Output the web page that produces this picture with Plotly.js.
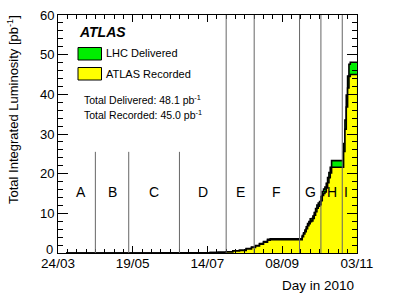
<!DOCTYPE html>
<html>
<head>
<meta charset="utf-8">
<script src="https://cdn.plot.ly/plotly-3.0.1.min.js"></script>
<style>html,body{margin:0;padding:0;background:#fff;}#chart{width:415px;height:298px;}</style>
</head>
<body>
<div id="chart"></div>
<script>
// ---- data ----
var dates = ['2010-03-30','2010-04-21','2010-05-17','2010-06-10','2010-06-25','2010-07-08','2010-07-16','2010-07-22','2010-07-28','2010-08-02','2010-08-07','2010-08-12','2010-08-16','2010-08-19','2010-08-22','2010-08-25','2010-08-28','2010-08-30','2010-09-22',
 '2010-09-23','2010-09-24','2010-09-25','2010-09-26','2010-09-27','2010-09-28','2010-09-29','2010-09-30',
 '2010-10-01','2010-10-02','2010-10-03','2010-10-04','2010-10-05','2010-10-06','2010-10-07','2010-10-08','2010-10-09','2010-10-10','2010-10-11','2010-10-12','2010-10-13','2010-10-14','2010-10-15',
 '2010-10-23','2010-10-24','2010-10-25','2010-10-26','2010-10-27','2010-10-28','2010-10-29','2010-11-03'];
var delivered = [0,0,0.01,0.02,0.05,0.08,0.12,0.18,0.3,0.55,0.7,1.1,1.5,1.9,2.4,2.9,3.45,3.6,3.6,
 4.4,5.1,5.8,6.6,7.4,7.9,8.6,8.7,
 9.3,10.2,11.2,12.1,12.6,13.0,14.2,15.5,16.1,16.6,17.6,19.0,20.3,21.6,23.3,
 23.3,27.6,33.5,39.8,44.6,47.6,48.1,48.1];
var recorded = [0,0,0.01,0.02,0.05,0.07,0.11,0.17,0.28,0.51,0.65,1.02,1.4,1.77,2.23,2.7,3.2,3.35,3.35,
 4.1,4.8,5.4,6.1,6.9,7.4,7.9,8.1,
 8.7,9.5,10.4,11.3,11.8,12.2,13.2,14.5,15.0,15.4,16.4,17.7,19.0,20.2,21.6,
 21.6,25.6,31.2,36.8,41.6,44.5,45.0,45.0];
var periodNames = ['A','B','C','D','E','F','G','H','I'];
var periodEdges = ['2010-03-30','2010-04-21','2010-05-16','2010-06-23','2010-07-28','2010-08-18','2010-09-21','2010-10-07','2010-10-23','2010-10-29'];
var shortLineTop = 25.5;   // height of the early period separators
var totalDelivered = '48.1';
var totalRecorded = '45.0';
var yTickVals = [0, 10, 20, 30, 40, 50, 60];
var yTickText = ['', '10', '20', '30', '40', '50', '60'];
var zeroLabel = '0';
var xTickStart = '2010-03-24';
var xEnd = '2010-11-03 01:00';

// ---- layout helpers (pixel geometry) ----
var L = 58, R = 357, T = 15, B = 253;
function px(x){ return (x - L) / (R - L); }
function py(y){ return (B - y) / (B - T); }
var FONT = 'Liberation Sans, Arial, Helvetica, sans-serif';
var DAY = 86400000;

var traces = [
  {x: dates, y: delivered, type: 'scatter', mode: 'lines', line: {shape: 'hv', color: '#000', width: 1.6},
   fill: 'tozeroy', fillcolor: '#00ee00', hoverinfo: 'skip', name: 'LHC Delivered'},
  {x: dates, y: recorded, type: 'scatter', mode: 'lines', line: {shape: 'hv', color: '#000', width: 1.6},
   fill: 'tozeroy', fillcolor: '#ffff00', hoverinfo: 'skip', name: 'ATLAS Recorded'}
];

var shapes = [];
var annotations = [];
function ms(d){ return new Date(d + 'T00:00:00Z').getTime(); }
for (var i = 1; i < periodEdges.length - 1; i++) {
  var full = i >= 4;
  shapes.push({type: 'line', xref: 'x', yref: full ? 'paper' : 'y', x0: periodEdges[i], x1: periodEdges[i],
    y0: 0, y1: full ? 1 : shortLineTop, line: {color: '#666', width: 1}, layer: 'above'});
}
for (var j = 0; j < periodNames.length; j++) {
  var mid = (ms(periodEdges[j]) + ms(periodEdges[j + 1])) / 2;
  annotations.push({xref: 'x', yref: 'y', x: mid, y: 15.5, text: periodNames[j], showarrow: false,
    font: {family: FONT, size: 14, color: '#000'}, xanchor: 'center', yanchor: 'middle'});
}
// legend boxes
shapes.push({type: 'rect', xref: 'paper', yref: 'paper', x0: px(78), x1: px(101.5), y0: py(60), y1: py(47.5),
  fillcolor: '#00ee00', line: {color: '#000', width: 1}, layer: 'above'});
shapes.push({type: 'rect', xref: 'paper', yref: 'paper', x0: px(78), x1: px(101.5), y0: py(80), y1: py(67.5),
  fillcolor: '#ffff00', line: {color: '#000', width: 1}, layer: 'above'});
annotations.push({xref: 'paper', yref: 'paper', x: px(77), y: py(32), text: '<b><i>ATLAS</i></b>', showarrow: false,
  xanchor: 'left', yanchor: 'middle', font: {family: FONT, size: 14, color: '#000'}});
annotations.push({xref: 'paper', yref: 'paper', x: px(104), y: py(53.5), text: 'LHC Delivered', showarrow: false,
  xanchor: 'left', yanchor: 'middle', font: {family: FONT, size: 11, color: '#000'}});
annotations.push({xref: 'paper', yref: 'paper', x: px(104), y: py(73.5), text: 'ATLAS Recorded', showarrow: false,
  xanchor: 'left', yanchor: 'middle', font: {family: FONT, size: 11, color: '#000'}});
annotations.push({xref: 'paper', yref: 'paper', x: px(82), y: py(100), text: 'Total Delivered: ' + totalDelivered + ' pb<sup>-1</sup>', showarrow: false,
  xanchor: 'left', yanchor: 'middle', font: {family: FONT, size: 10.5, color: '#000'}});
annotations.push({xref: 'paper', yref: 'paper', x: px(82), y: py(115), text: 'Total Recorded: ' + totalRecorded + ' pb<sup>-1</sup>', showarrow: false,
  xanchor: 'left', yanchor: 'middle', font: {family: FONT, size: 10.5, color: '#000'}});
// zero label on the y axis (lifted a little, as in the reference)
annotations.push({xref: 'paper', yref: 'paper', x: px(55), y: py(249), text: zeroLabel, showarrow: false,
  xanchor: 'right', yanchor: 'middle', font: {family: FONT, size: 13, color: '#000'}});
// axis titles
annotations.push({xref: 'paper', yref: 'paper', x: px(356), y: py(285), text: 'Day in 2010', showarrow: false,
  xanchor: 'right', yanchor: 'middle', font: {family: FONT, size: 13.5, color: '#000'}});
annotations.push({xref: 'paper', yref: 'paper', x: px(12.5), y: py(13), text: 'Total Integrated Luminosity [pb<sup>-1</sup>]', showarrow: false,
  textangle: -90, xanchor: 'center', yanchor: 'top', font: {family: FONT, size: 13, color: '#000'}});

var layout = {
  width: 415, height: 298,
  margin: {l: L, r: 415 - R, t: T, b: 298 - B, pad: 0},
  paper_bgcolor: '#fff', plot_bgcolor: '#fff',
  showlegend: false,
  font: {family: FONT, color: '#000'},
  xaxis: {type: 'date', range: [xTickStart, xEnd], tick0: xTickStart, dtick: 56 * DAY, tickformat: '%d/%m',
    ticks: 'inside', ticklen: 7, tickwidth: 1, tickcolor: '#000', showline: true, linecolor: '#000', linewidth: 1,
    mirror: 'allticks', showgrid: false, zeroline: false, tickfont: {family: FONT, size: 13.5, color: '#000'},
    ticklabelstandoff: -2,
    minor: {dtick: 7 * DAY, tick0: xTickStart, ticks: 'inside', ticklen: 4, tickcolor: '#000', showgrid: false}},
  yaxis: {range: [0, 60], tickmode: 'array', tickvals: yTickVals, ticktext: yTickText,
    ticks: 'inside', ticklen: 10, tickwidth: 1, tickcolor: '#000',
    showline: true, linecolor: '#000', linewidth: 1, mirror: 'allticks', showgrid: false, zeroline: false,
    tickfont: {family: FONT, size: 13, color: '#000'},
    minor: {dtick: 2, ticks: 'inside', ticklen: 5, tickcolor: '#000', showgrid: false}},
  shapes: shapes,
  annotations: annotations
};
Plotly.newPlot('chart', traces, layout, {staticPlot: true, displayModeBar: false});
</script>
</body>
</html>
